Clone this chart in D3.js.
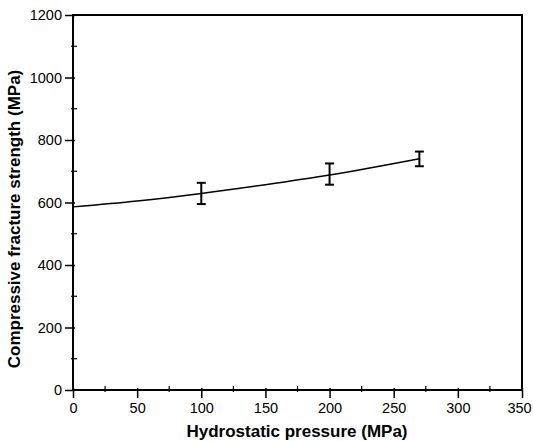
<!doctype html>
<html lang="en">
  <head>
    <meta charset="UTF-8" />
    <title>Compressive fracture strength</title>
    <script src="https://d3js.org/d3.v7.min.js"></script>
    <style>
      body,
      html {
        margin: 0;
        padding: 0;
        background: #fff;
      }
      svg {
        display: block;
        font-family: "Liberation Sans", Arial, sans-serif;
      }
      .frame {
        fill: none;
        stroke: #000;
        stroke-width: 2px;
      }
      .tick-label {
        font-size: 14.5px;
      }
      .axis-title {
        font-size: 17px;
        font-weight: bold;
      }
    </style>
  </head>
  <body>
    <svg id="chart" width="533" height="442"></svg>
    <script>
      // fitted curve
      const curveP = [0, 50, 100, 150, 200, 270];
      const curveS = [586, 605, 629, 657, 688, 740];

      // measured points with error bars
      const pointP = [100, 200, 270];
      const pointLo = [595, 657, 716];
      const pointHi = [663, 725, 763];

      const xTicks = [0, 50, 100, 150, 200, 250, 300, 350];
      const yTicks = [0, 200, 400, 600, 800, 1000, 1200];

      const svg = d3.select("#chart");
      const margin = { left: 73, right: 11, top: 15, bottom: 52 };
      const width = 533;
      const height = 442;

      const x = d3
        .scaleLinear()
        .domain([0, 350])
        .range([margin.left, width - margin.right]);
      const y = d3
        .scaleLinear()
        .domain([0, 1200])
        .range([height - margin.bottom, margin.top]);

      // frame
      svg
        .append("rect")
        .attr("class", "frame")
        .attr("x", x(0))
        .attr("y", y(1200))
        .attr("width", x(350) - x(0))
        .attr("height", y(0) - y(1200));

      // x axis: major ticks outward, minor ticks small
      const xAxis = d3
        .axisBottom(x)
        .tickValues(xTicks)
        .tickSize(8)
        .tickPadding(5)
        .tickFormat(d3.format("d"));
      const gx = svg
        .append("g")
        .attr("transform", `translate(0,${y(0)})`)
        .call(xAxis);
      gx.select(".domain").remove();
      gx.selectAll("line").attr("y1", -2).attr("stroke-width", 1.5);
      gx.selectAll("text")
        .attr("class", "tick-label")
        .attr("fill", "#000")
        .attr("font-size", null)
        .attr("font-family", null)
        .attr("dx", (d) => (d === 350 ? -3 : 0)); // keep last label inside the page

      const xMinor = d3.range(25, 350, 50);
      svg
        .append("g")
        .selectAll("line")
        .data(xMinor)
        .join("line")
        .attr("x1", (d) => x(d))
        .attr("x2", (d) => x(d))
        .attr("y1", y(0) - 4)
        .attr("y2", y(0) + 2)
        .attr("stroke", "#000")
        .attr("stroke-width", 1.2);

      // y axis
      const yAxis = d3
        .axisLeft(y)
        .tickValues(yTicks)
        .tickSize(8)
        .tickPadding(3)
        .tickFormat(d3.format("d"));
      const gy = svg
        .append("g")
        .attr("transform", `translate(${x(0)},0)`)
        .call(yAxis);
      gy.select(".domain").remove();
      gy.selectAll("line").attr("x1", 2).attr("stroke-width", 1.5);
      gy.selectAll("text")
        .attr("class", "tick-label")
        .attr("fill", "#000")
        .attr("font-size", null)
        .attr("font-family", null);

      const yMinor = d3.range(100, 1200, 200);
      svg
        .append("g")
        .selectAll("line")
        .data(yMinor)
        .join("line")
        .attr("x1", x(0) - 2)
        .attr("x2", x(0) + 4)
        .attr("y1", (d) => y(d))
        .attr("y2", (d) => y(d))
        .attr("stroke", "#000")
        .attr("stroke-width", 1.2);

      // curve
      const curve = curveP.map((p, i) => [p, curveS[i]]);
      svg
        .append("path")
        .datum(curve)
        .attr("fill", "none")
        .attr("stroke", "#000")
        .attr("stroke-width", 1.5)
        .attr(
          "d",
          d3
            .line()
            .x((d) => x(d[0]))
            .y((d) => y(d[1]))
            .curve(d3.curveMonotoneX)
        );

      // error bars
      const bars = pointP.map((p, i) => ({ p, lo: pointLo[i], hi: pointHi[i] }));
      const cap = 4.5;
      const eb = svg.append("g").attr("stroke", "#000").attr("stroke-width", 2);
      eb.selectAll(".stem")
        .data(bars)
        .join("line")
        .attr("x1", (d) => x(d.p))
        .attr("x2", (d) => x(d.p))
        .attr("y1", (d) => y(d.lo))
        .attr("y2", (d) => y(d.hi));
      eb.selectAll(".capTop")
        .data(bars)
        .join("line")
        .attr("x1", (d) => x(d.p) - cap)
        .attr("x2", (d) => x(d.p) + cap)
        .attr("y1", (d) => y(d.hi))
        .attr("y2", (d) => y(d.hi));
      eb.selectAll(".capBot")
        .data(bars)
        .join("line")
        .attr("x1", (d) => x(d.p) - cap)
        .attr("x2", (d) => x(d.p) + cap)
        .attr("y1", (d) => y(d.lo))
        .attr("y2", (d) => y(d.lo));

      // titles
      svg
        .append("text")
        .attr("class", "axis-title")
        .attr("x", 297)
        .attr("y", 437)
        .attr("text-anchor", "middle")
        .text("Hydrostatic pressure (MPa)");

      svg
        .append("text")
        .attr("class", "axis-title")
        .attr("transform", "translate(20,219) rotate(-90)")
        .attr("text-anchor", "middle")
        .text("Compressive fracture strength (MPa)");
    </script>
  </body>
</html>
